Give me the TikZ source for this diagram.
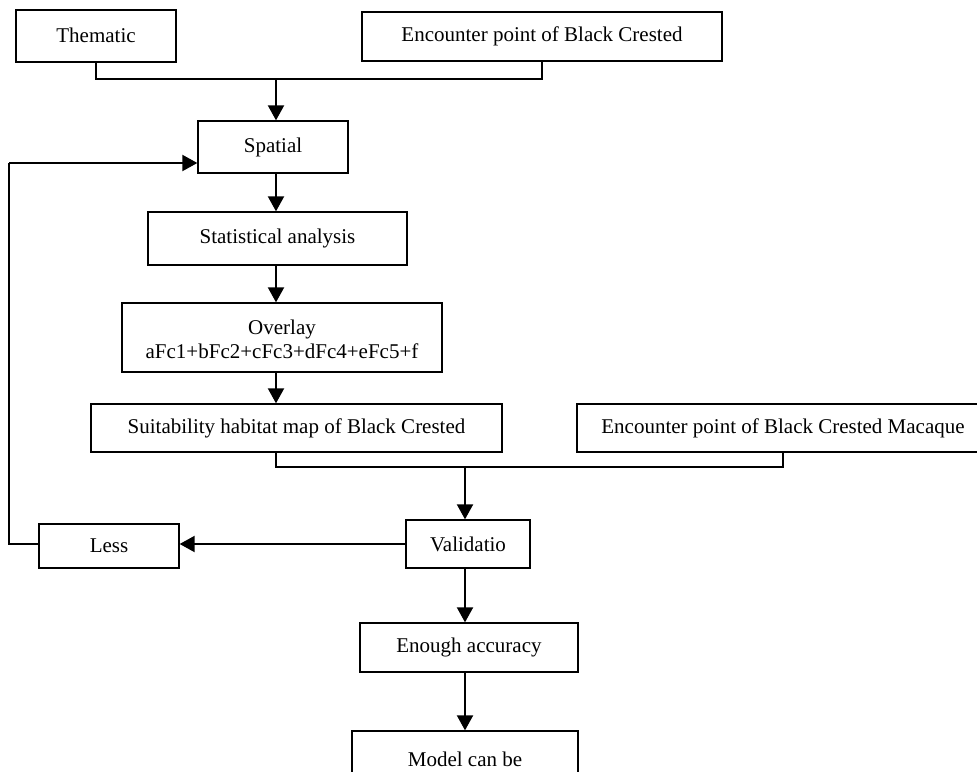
\documentclass[tikz,border=0pt]{standalone}
\usepackage{fontspec}
\setmainfont{Liberation Serif}
\usetikzlibrary{arrows.meta,calc}
\begin{document}
\begin{tikzpicture}[x=1pt,y=-1pt,
  box/.style={draw,line width=1.3pt,inner sep=0pt,align=center,font=\fontsize{21}{24}\selectfont},
  arr/.style={line width=2pt,-{Triangle[length=15pt,width=16pt]}},
  conn/.style={line width=1.3pt}]
\useasboundingbox (0,0) rectangle (977,771);
\begin{scope}
\clip (0,0) rectangle (977,771);
\node[box,minimum width=160pt,minimum height=52pt] (them) at (96,36) {\raisebox{2pt}{Thematic}};
\node[box,minimum width=360pt,minimum height=49pt] (enc1) at (542,36.5) {Encounter point of Black Crested};
\node[box,minimum width=150pt,minimum height=52pt] (spat) at (273,147) {Spatial};
\node[box,minimum width=259pt,minimum height=53pt] (stat) at (277.5,238.5) {Statistical analysis};
\node[box,minimum width=320pt,minimum height=69pt] (over) at (282,337.5) {};
\node[font=\fontsize{21}{24}\selectfont,align=center,inner sep=0pt] (overtext) at ($(over.center)+(0,2)$) {Overlay\\aFc1+bFc2+cFc3+dFc4+eFc5+f};
\node[box,minimum width=411pt,minimum height=48pt] (suit) at (296.5,428) {Suitability habitat map of Black Crested};
\node[box,minimum width=412pt,minimum height=48pt] (enc2) at (783,428) {Encounter point of Black Crested Macaque};
\node[box,minimum width=124pt,minimum height=48pt] (valid) at (468,544) {Validatio};
\node[box,minimum width=140pt,minimum height=44pt] (less) at (109,546) {Less};
\node[box,minimum width=218pt,minimum height=49pt] (enough) at (469,647.5) {Enough accuracy};
\node[box,minimum width=226pt,minimum height=60pt,text depth=0pt] (model) at (465,761) {\raisebox{4pt}{Model can be}};

\coordinate (j1) at (276,79);
\coordinate (j2) at (465,467);
\coordinate (fb1) at (9,544);
\coordinate (fb2) at (9,163);

\draw[conn] (them.south) |- (j1) -| (enc1.south);
\draw[arr] (j1) -- (spat.north -| j1);
\draw[arr] (spat.south -| j1) -- (stat.north -| j1);
\draw[arr] (stat.south -| j1) -- (over.north -| j1);
\draw[arr] (over.south -| j1) -- (suit.north -| j1);
\draw[conn] (suit.south -| j1) |- (j2) -| (enc2.south);
\draw[arr] (j2) -- (valid.north -| j2);
\draw[arr] (valid.west) -- (less.east |- valid.west);
\draw[conn] (less.west |- fb1) -- (fb1) -- (fb2);
\draw[arr] (fb2) -- (spat.west |- fb2);
\draw[arr] (valid.south -| j2) -- (enough.north -| j2);
\draw[arr] (enough.south -| j2) -- (model.north -| j2);
\end{scope}
\end{tikzpicture}
\end{document}
